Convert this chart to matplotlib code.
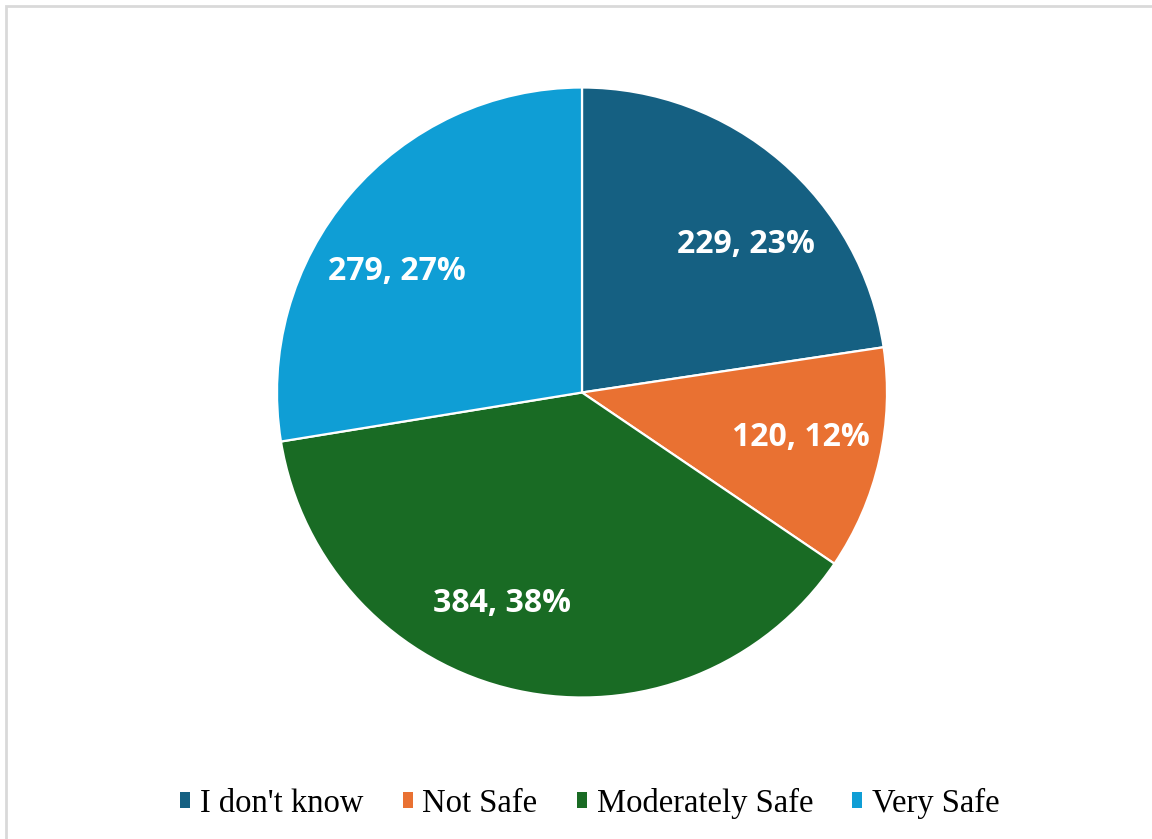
import numpy as np
import matplotlib
matplotlib.use("Agg")
import matplotlib.pyplot as plt
from matplotlib.patches import Rectangle

categories = ["I don't know", "Not Safe", "Moderately Safe", "Very Safe"]
counts = [229, 120, 384, 279]
percents = [23, 12, 38, 27]
colors = ["#156082", "#E97132", "#196B24", "#0F9ED5"]

# small angular nudges so labels sit where the original placed them
label_shift = [-6.5, 2.0, -8.5, 6.6]
label_dist = 0.73


def main():
    fig = plt.figure(figsize=(11.52, 8.39), dpi=100)

    # light chart-area border (right/bottom run off the canvas)
    fig.patches.append(Rectangle((6 / 1152, -0.05), 1.2, 1 - 6 / 839 + 0.05,
                                 transform=fig.transFigure, fill=False,
                                 edgecolor="#d9d9d9", linewidth=2))

    ax = fig.add_axes([277 / 1152, (839 - 698) / 839, 610 / 1152, 611 / 839])
    wedges, _ = ax.pie(counts, colors=colors, startangle=90, counterclock=False,
                       radius=1, wedgeprops=dict(edgecolor="white", linewidth=1.6))
    ax.set_xlim(-1, 1)
    ax.set_ylim(-1, 1)
    ax.set_aspect("equal")

    for w, n, p, s in zip(wedges, counts, percents, label_shift):
        mid = np.deg2rad((w.theta1 + w.theta2) / 2 + s)
        ax.text(label_dist * np.cos(mid), label_dist * np.sin(mid) - 0.01, f"{n}, {p}%",
                ha="center", va="center", color="white", fontsize=23,
                fontweight="bold", family="Open Sans")

    handles = [Rectangle((0, 0), 1, 1, facecolor=c, edgecolor="none") for c in colors]
    fig.legend(handles, categories, loc="center", ncol=4,
               bbox_to_anchor=(590 / 1152, 1 - 803 / 839), frameon=False,
               prop=dict(family="Liberation Serif", size=23.5),
               handlelength=0.31, handleheight=0.36, handletextpad=0.3,
               columnspacing=1.2)

    fig.savefig("out.png", dpi=100, facecolor="white")


if __name__ == "__main__":
    main()
